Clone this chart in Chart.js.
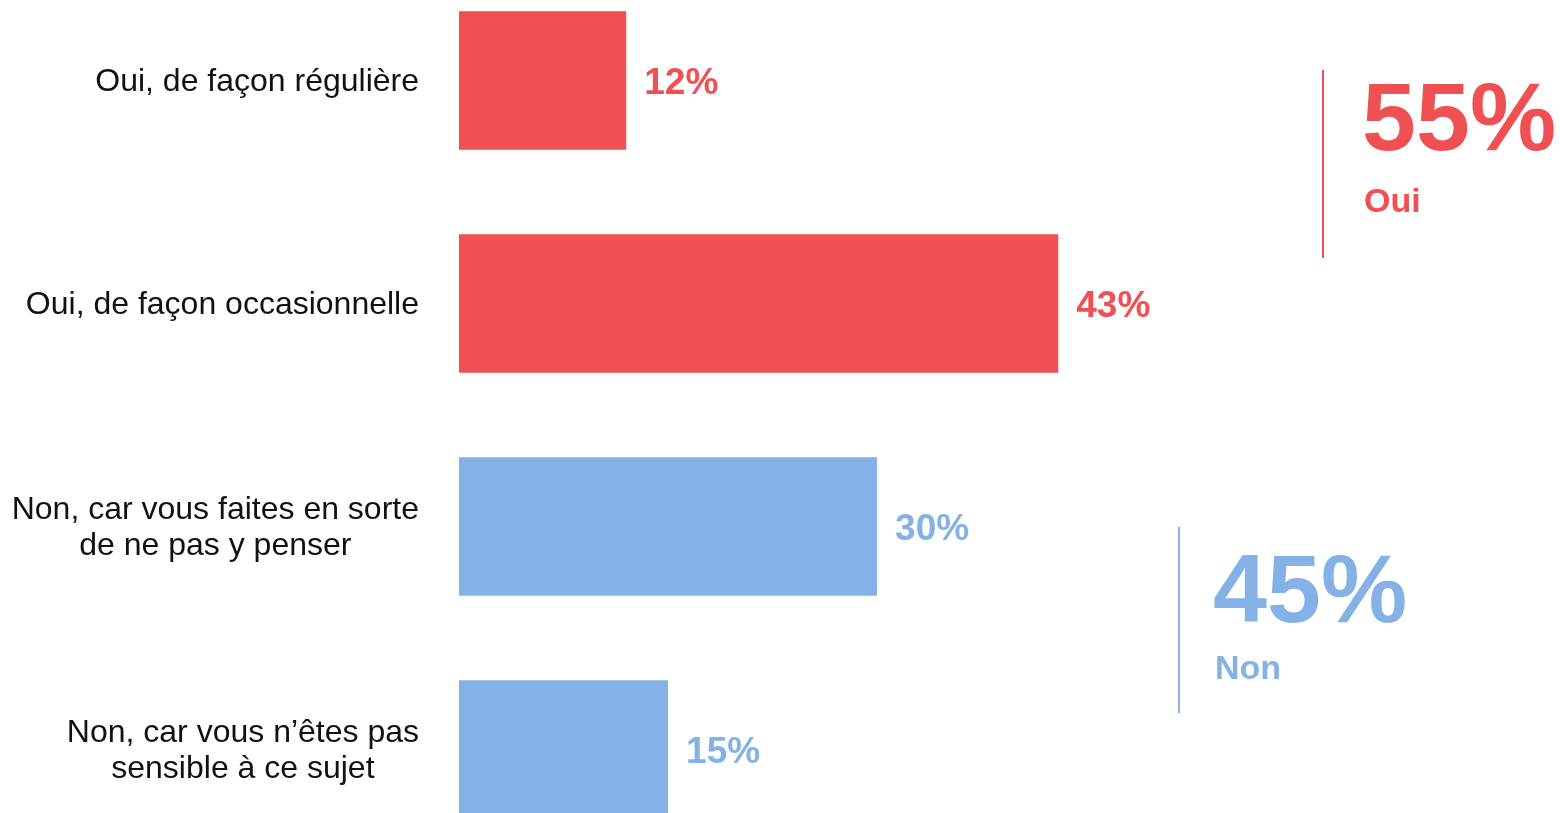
<!DOCTYPE html>
<html>
<head>
<meta charset="utf-8">
<script src="https://cdn.jsdelivr.net/npm/chart.js@4/dist/chart.umd.min.js"></script>
<style>
  html, body { margin: 0; padding: 0; background: #fff; overflow: hidden; }
  #wrap { position: absolute; left: 0; top: -31px; width: 1560px; height: 892px; }
</style>
</head>
<body>
<div id="wrap"><canvas id="c"></canvas></div>
<script>
// answer categories (multi-line labels) and their shares in %
const categories = [
  ["Oui, de façon régulière"],
  ["Oui, de façon occasionnelle"],
  ["Non, car vous faites en sorte", "de ne pas y penser"],
  ["Non, car vous n’êtes pas", "sensible à ce sujet"],
];
const values = [12, 43, 30, 15];
const groupOf = [0, 0, 1, 1];

// totals shown on the right
const groupNames = ["Oui", "Non"];
const groupTotals = [55, 45];

const RED = "#F05052", BLUE = "#84B2E6", INK = "#111";
const groupColors = [RED, BLUE];
const FONT = "'Liberation Sans', Arial, sans-serif";
const SHIFT = 31; // canvas sits 31px above the page top

// category labels: each block right-aligned, its lines centred on each other
const labelPlugin = {
  id: "catLabels",
  afterDraw(chart) {
    const ctx = chart.ctx, y = chart.scales.y;
    const right = chart.chartArea.left - 40, lh = 36;
    ctx.save();
    ctx.font = "32px " + FONT;
    ctx.fillStyle = INK;
    ctx.textAlign = "center";
    ctx.textBaseline = "middle";
    categories.forEach((lines, i) => {
      const w = Math.max(...lines.map(l => ctx.measureText(l).width));
      const cy = y.getPixelForValue(i) + 2;
      const top = cy - (lines.length - 1) * lh / 2;
      lines.forEach((l, k) => ctx.fillText(l, right - w / 2, top + k * lh));
    });
    ctx.restore();
  }
};

// bold value labels after each bar
const valuePlugin = {
  id: "valLabels",
  afterDatasetsDraw(chart) {
    const ctx = chart.ctx;
    const meta = chart.getDatasetMeta(0);
    ctx.save();
    ctx.font = "bold 37px " + FONT;
    ctx.textAlign = "left";
    ctx.textBaseline = "middle";
    meta.data.forEach((bar, i) => {
      ctx.fillStyle = groupColors[groupOf[i]];
      ctx.fillText(values[i] + "%", bar.x + 18, bar.y + 3);
    });
    ctx.restore();
  }
};

// group totals with a thin vertical rule (page coordinates)
const totalsPos = [
  { x: 1323, y0: 70, y1: 258, tx: 1362, big: 150, small: 212 },
  { x: 1179, y0: 527, y1: 713, tx: 1213, big: 622, small: 679 },
];
const totalsPlugin = {
  id: "totals",
  afterDraw(chart) {
    const ctx = chart.ctx;
    ctx.save();
    totalsPos.forEach((p, g) => {
      ctx.strokeStyle = groupColors[g];
      ctx.fillStyle = groupColors[g];
      ctx.lineWidth = 2;
      ctx.beginPath();
      ctx.moveTo(p.x, p.y0 + SHIFT);
      ctx.lineTo(p.x, p.y1 + SHIFT);
      ctx.stroke();
      ctx.textAlign = "left";
      ctx.textBaseline = "alphabetic";
      ctx.font = "bold 97px " + FONT;
      ctx.fillText(groupTotals[g] + "%", p.tx, p.big + SHIFT);
      ctx.font = "bold 34px " + FONT;
      ctx.fillText(groupNames[g], p.tx + 2, p.small + SHIFT);
    });
    ctx.restore();
  }
};

new Chart(document.getElementById("c"), {
  type: "bar",
  data: {
    labels: categories,
    datasets: [{
      data: values,
      backgroundColor: values.map((v, i) => groupColors[groupOf[i]]),
      borderWidth: 0,
      barPercentage: 1,
      categoryPercentage: 0.62,
    }],
  },
  options: {
    indexAxis: "y",
    animation: false,
    responsive: true,
    maintainAspectRatio: false,
    layout: { padding: { left: 459, right: 0, top: 0, bottom: 0 } },
    scales: {
      x: { display: false, min: 0, max: 79 },
      y: { display: false },
    },
    plugins: { legend: { display: false }, tooltip: { enabled: false } },
  },
  plugins: [labelPlugin, valuePlugin, totalsPlugin],
});
</script>
</body>
</html>
